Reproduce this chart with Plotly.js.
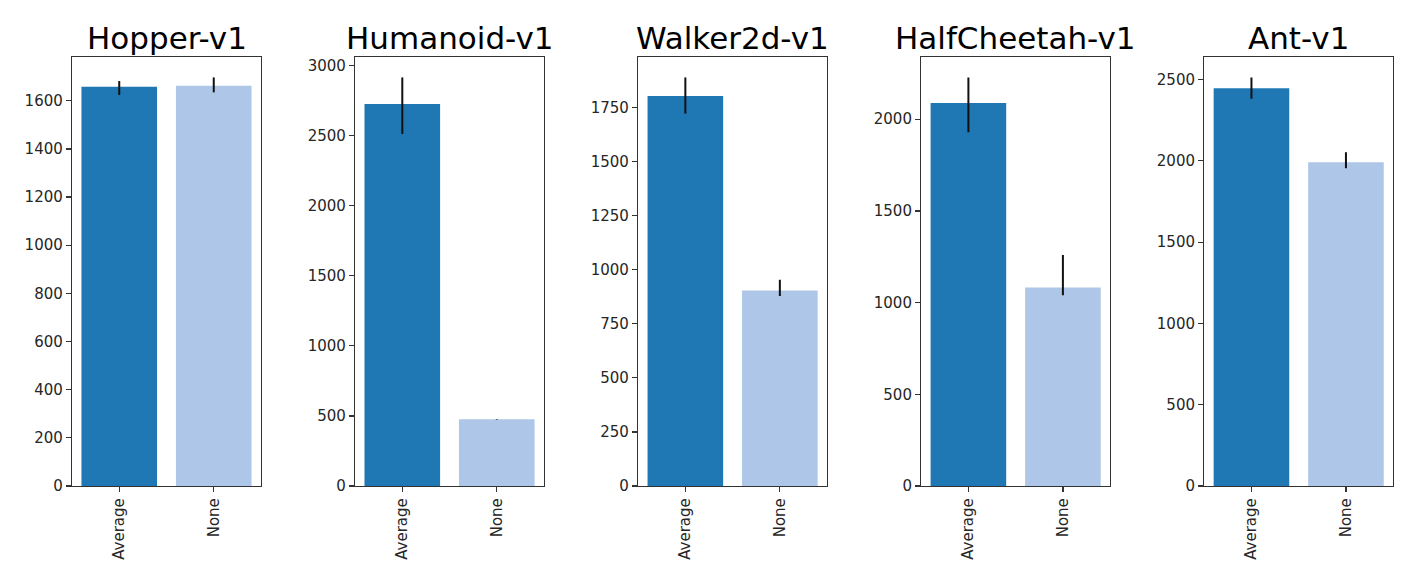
<!DOCTYPE html>
<html>
<head>
<meta charset="utf-8">
<script src="https://cdn.plot.ly/plotly-3.0.1.min.js"></script>
<style>html,body{margin:0;padding:0;background:#fff;}#chart{width:1420px;height:583px;}</style>
</head>
<body>
<div id="chart"></div>
<script>
const envs = ["Hopper-v1", "Humanoid-v1", "Walker2d-v1", "HalfCheetah-v1", "Ant-v1"];
const categories = ["Average", "None"];
const averageMean = [1658, 2726, 1802, 2088, 2447];
const averageHi   = [1682, 2916, 1888, 2228, 2513];
const averageLo   = [1624, 2512, 1721, 1929, 2382];
const noneMean = [1662, 476, 903, 1082, 1992];
const noneHi   = [1697, 478, 953, 1260, 2053];
const noneLo   = [1635, 474, 878, 1040, 1955];
const yTickStep = [200, 500, 250, 500, 500];
const colors = ["#1f77b4", "#aec7e8"];

const W = 1420, H = 583;
const left0 = 72, plotW = 189, stepX = 283.05;
const yBot = (H - 486) / H, yTop = (H - 57) / H;

const traces = [];
const layout = {
  width: W, height: H,
  margin: {l: 0, r: 0, t: 0, b: 0},
  paper_bgcolor: "#fff", plot_bgcolor: "#fff",
  showlegend: false,
  bargap: 0.2,
  font: {family: "DejaVu Sans, sans-serif", color: "#262626"},
  annotations: []
};

envs.forEach((env, i) => {
  const n = i + 1;
  const xa = n === 1 ? "x" : "x" + n;
  const ya = n === 1 ? "y" : "y" + n;
  const means = [averageMean[i], noneMean[i]];
  const hi = [averageHi[i], noneHi[i]];
  const lo = [averageLo[i], noneLo[i]];
  traces.push({
    type: "bar", x: categories, y: means, xaxis: xa, yaxis: ya,
    marker: {color: colors, line: {width: 0}},
    error_y: {type: "data", symmetric: false,
      array: means.map((m, k) => hi[k] - m),
      arrayminus: means.map((m, k) => m - lo[k]),
      color: "#111", thickness: 2, width: 0},
    hoverinfo: "skip"
  });
  const x0 = (left0 + i * stepX) / W, x1 = (left0 + i * stepX + plotW) / W;
  const ymax = Math.max(...hi) * 1.05;
  const axCommon = {showline: true, mirror: true, linecolor: "#333", linewidth: 1.2,
    ticks: "outside", ticklen: 5, tickwidth: 1.2, tickcolor: "#333",
    showgrid: false, zeroline: false, tickfont: {size: 15, color: "#262626"}};
  layout["xaxis" + (n === 1 ? "" : n)] = Object.assign({}, axCommon, {
    domain: [x0, x1], anchor: ya, type: "category", range: [-0.5, 1.5],
    tickangle: -90, fixedrange: true
  });
  layout["yaxis" + (n === 1 ? "" : n)] = Object.assign({}, axCommon, {
    domain: [yBot, yTop], anchor: xa, range: [0, ymax], dtick: yTickStep[i], tick0: 0,
    fixedrange: true
  });
  layout.annotations.push({
    text: env, xref: "paper", yref: "paper", x: (x0 + x1) / 2, y: (H - 38) / H,
    xanchor: "center", yanchor: "middle", showarrow: false,
    font: {size: 31, color: "#000", family: "DejaVu Sans, sans-serif"}
  });
});

Plotly.newPlot("chart", traces, layout, {displayModeBar: false, staticPlot: true});
</script>
</body>
</html>
